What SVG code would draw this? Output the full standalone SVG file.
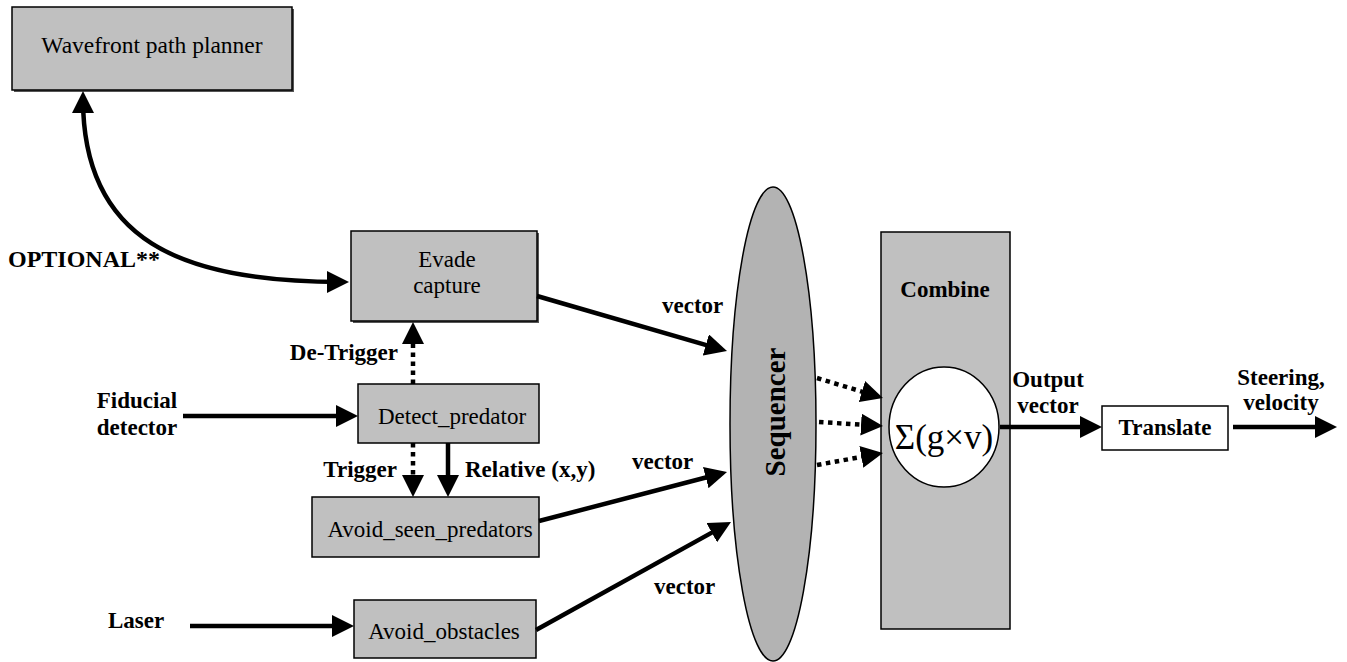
<svg xmlns="http://www.w3.org/2000/svg" width="1347" height="662" viewBox="0 0 1347 662">
<defs>
<style>
.box{fill:#c0c0c0;stroke:#000;stroke-width:1.5}
.shadow{fill:#555}
.nt{font-family:'Liberation Serif',Tinos,'Times New Roman',Times,serif;font-size:23px;fill:#000;text-anchor:middle}
.lb{font-family:'Liberation Serif',Tinos,'Times New Roman',Times,serif;font-size:23px;font-weight:bold;fill:#000}
.ln{fill:none;stroke:#000;stroke-width:4.5}
.dot{fill:none;stroke:#000;stroke-width:4.5;stroke-dasharray:4.5,4.5}
</style>
<marker id="ah" markerUnits="userSpaceOnUse" markerWidth="22" markerHeight="22" refX="14" refY="11" orient="auto-start-reverse">
<path d="M0,0 L22,11 L0,22 z" fill="#000"/>
</marker>
</defs>
<rect width="1347" height="662" fill="#fff"/>

<g id="wavefront">
<rect class="shadow" x="14" y="9" width="280" height="83"/>
<rect class="box" x="12" y="7" width="280" height="83"/>
<text class="nt" x="152" y="53" style="font-size:23.5px">Wavefront path planner</text>
</g>

<g id="evade">
<rect class="shadow" x="353" y="233" width="186" height="90"/>
<rect class="box" x="351" y="231" width="186" height="90"/>
<text class="nt" x="447" y="267">Evade</text>
<text class="nt" x="447" y="293">capture</text>
</g>

<g id="detect">
<rect class="box" x="358" y="384" width="181" height="59"/>
<text class="nt" x="452" y="424">Detect_predator</text>
</g>

<g id="avoid-seen">
<rect class="box" x="312" y="497" width="227" height="60"/>
<text class="nt" x="430" y="537">Avoid_seen_predators</text>
</g>

<g id="avoid-obstacles">
<rect class="box" x="354" y="600" width="182" height="58"/>
<text class="nt" x="444" y="639">Avoid_obstacles</text>
</g>

<g id="sequencer">
<ellipse cx="773" cy="424" rx="43" ry="237" fill="#b3b3b3" stroke="#000" stroke-width="1.5"/>
<text class="lb" x="0" y="0" text-anchor="middle" transform="translate(785,412) rotate(-90)" style="font-size:29px">Sequencer</text>
</g>

<g id="combine">
<rect class="box" x="881" y="232" width="129" height="397"/>
<text class="lb" x="945" y="297" text-anchor="middle">Combine</text>
<ellipse cx="944" cy="427" rx="55" ry="60" fill="#fff" stroke="#000" stroke-width="1.5"/>
<text class="nt" x="944" y="449" style="font-size:35px">Σ(g×v)</text>
</g>

<g id="translate">
<rect x="1102" y="406" width="126" height="44" fill="#fff" stroke="#000" stroke-width="1.5"/>
<text class="lb" x="1165" y="435" text-anchor="middle">Translate</text>
</g>

<g id="labels">
<text class="lb" x="8" y="267" style="font-size:24px">OPTIONAL**</text>
<text class="lb" x="137" y="408" text-anchor="middle">Fiducial</text>
<text class="lb" x="137" y="435" text-anchor="middle">detector</text>
<text class="lb" x="108" y="628">Laser</text>
<text class="lb" x="398" y="360" text-anchor="end">De-Trigger</text>
<text class="lb" x="397" y="477" text-anchor="end">Trigger</text>
<text class="lb" x="465" y="477">Relative (x,y)</text>
<text class="lb" x="662" y="313">vector</text>
<text class="lb" x="632" y="469">vector</text>
<text class="lb" x="654" y="594">vector</text>
<text class="lb" x="1048" y="387" text-anchor="middle">Output</text>
<text class="lb" x="1048" y="413" text-anchor="middle">vector</text>
<text class="lb" x="1281" y="385" text-anchor="middle">Steering,</text>
<text class="lb" x="1281" y="410" text-anchor="middle">velocity</text>
</g>

<g id="connectors">
<path class="ln" d="M83,99 C83,240 180,282 341,282" marker-start="url(#ah)" marker-end="url(#ah)"/>
<path class="ln" d="M537,296 L719.3,348.8" marker-end="url(#ah)"/>
<path class="ln" d="M539,521 L719.3,474" marker-end="url(#ah)"/>
<path class="ln" d="M536,630 L724,525.9" marker-end="url(#ah)"/>
<path class="ln" d="M183,416 L350,416" marker-end="url(#ah)"/>
<path class="ln" d="M190,626 L346,626" marker-end="url(#ah)"/>
<path class="dot" d="M413,384 L413,330" marker-end="url(#ah)"/>
<path class="dot" d="M413,443 L413,489" marker-end="url(#ah)"/>
<path class="ln" d="M448,443 L448,489" marker-end="url(#ah)"/>
<path class="dot" d="M817,378 L875.3,395.7" marker-end="url(#ah)"/>
<path class="dot" d="M819,422 L875,425.5" marker-end="url(#ah)"/>
<path class="dot" d="M817,465 L875.1,454.4" marker-end="url(#ah)"/>
<path class="ln" d="M1000,427 L1094,427" marker-end="url(#ah)"/>
<path class="ln" d="M1233,427 L1329,427" marker-end="url(#ah)"/>
</g>
</svg>
